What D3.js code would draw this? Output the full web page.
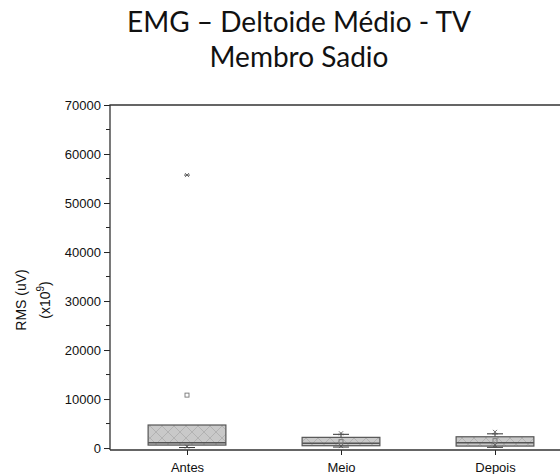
<!DOCTYPE html>
<html>
<head>
<meta charset="utf-8">
<script src="https://cdn.jsdelivr.net/npm/d3@7"></script>
<style>
  html, body { margin: 0; padding: 0; background: #fff; }
  svg { display: block; }
</style>
</head>
<body>
<svg id="chart" width="560" height="474"></svg>
<script>
// Box-plot summary per phase (RMS, x10^9 uV)
const categories = ["Antes", "Meio", "Depois"];
const q1 = [600, 470, 400];
const median = [1100, 1000, 1080];
const q3 = [4700, 2180, 2300];
const whiskerLow = [100, 200, 150];
const whiskerHigh = [4700, 2800, 2900];
const means = [10800, 1300, 1500];
const p1 = [300, 400, 600];
const p99 = [55700, 3000, 3300];
const maxima = [55700, 2800, 2900];
const yTicks = [0, 10000, 20000, 30000, 40000, 50000, 60000, 70000];

const svg = d3.select("#chart");
const plotLeft = 110, plotRight = 572, plotTop = 105, plotBottom = 450;
const axisFont = "Liberation Sans, Arial, sans-serif";

const x = d3.scalePoint().domain(categories).range([plotLeft, plotRight]).padding(0.5);
const y = d3.scaleLinear().domain([-400, 70000]).range([plotBottom, plotTop]);
const boxW = x.step() * 0.505;

// crosshatch fill
const defs = svg.append("defs");
const pat = defs.append("pattern")
  .attr("id", "hatch").attr("patternUnits", "userSpaceOnUse")
  .attr("width", 12).attr("height", 12);
pat.append("rect").attr("width", 12).attr("height", 12).attr("fill", "#c9c9c9");
pat.append("path").attr("d", "M0,0 L12,12 M12,0 L0,12")
  .attr("stroke", "#b2b2b2").attr("stroke-width", 1).attr("fill", "none");

// title
const title = svg.append("text").attr("x", 299).attr("text-anchor", "middle")
  .attr("font-family", "Lato, 'Open Sans', sans-serif").attr("font-size", 28).attr("fill", "#111");
title.append("tspan").attr("x", 299).attr("y", 32).text("EMG \u2013 Deltoide Médio - TV");
title.append("tspan").attr("x", 299).attr("y", 67).text("Membro Sadio");

// axes
const yAxis = svg.append("g").attr("transform", `translate(${plotLeft},0)`)
  .call(d3.axisLeft(y).tickValues(yTicks).tickSize(6).tickPadding(3).tickFormat(d3.format("d")));
yAxis.select(".domain").remove();
yAxis.selectAll("text").attr("font-family", axisFont)
  .attr("font-size", 13).attr("fill", "#111");
yAxis.selectAll("line").attr("stroke", "#222");

const minor = d3.range(5000, 70000, 10000);
svg.append("g").selectAll("line").data(minor).join("line")
  .attr("x1", plotLeft - 4).attr("x2", plotLeft)
  .attr("y1", d => y(d)).attr("y2", d => y(d))
  .attr("stroke", "#222");

const xAxis = svg.append("g").attr("transform", `translate(0,${plotBottom})`)
  .call(d3.axisBottom(x).tickSize(5).tickPadding(8));
xAxis.select(".domain").remove();
xAxis.selectAll("text").attr("font-family", axisFont)
  .attr("font-size", 13).attr("fill", "#111");
xAxis.selectAll("line").attr("stroke", "#222");

// frame
svg.append("path")
  .attr("d", `M${plotLeft},${plotBottom} L${plotLeft},${plotTop} L${plotRight},${plotTop} M${plotLeft},${plotBottom} L${plotRight},${plotBottom}`)
  .attr("fill", "none").attr("stroke", "#333").attr("stroke-width", 1.3);

// boxes
const g = svg.append("g");
categories.forEach((c, i) => {
  const cx = x(c);
  const capW = 16;
  // whiskers
  g.append("line").attr("x1", cx).attr("x2", cx)
    .attr("y1", y(q1[i])).attr("y2", y(whiskerLow[i])).attr("stroke", "#333");
  g.append("line").attr("x1", cx - capW / 2).attr("x2", cx + capW / 2)
    .attr("y1", y(whiskerLow[i])).attr("y2", y(whiskerLow[i])).attr("stroke", "#333");
  if (whiskerHigh[i] > q3[i]) {
    g.append("line").attr("x1", cx).attr("x2", cx)
      .attr("y1", y(q3[i])).attr("y2", y(whiskerHigh[i])).attr("stroke", "#333");
    g.append("line").attr("x1", cx - capW / 2).attr("x2", cx + capW / 2)
      .attr("y1", y(whiskerHigh[i])).attr("y2", y(whiskerHigh[i])).attr("stroke", "#333");
  }
  // box
  g.append("rect").attr("x", cx - boxW / 2).attr("width", boxW)
    .attr("y", y(q3[i])).attr("height", y(q1[i]) - y(q3[i]))
    .attr("fill", "url(#hatch)").attr("stroke", "#555").attr("stroke-width", 1.2);
  // median
  g.append("line").attr("x1", cx - boxW / 2).attr("x2", cx + boxW / 2)
    .attr("y1", y(median[i])).attr("y2", y(median[i]))
    .attr("stroke", "#555").attr("stroke-width", 1.5);
  // mean
  g.append("rect").attr("x", cx - 2).attr("y", y(means[i]) - 2)
    .attr("width", 4).attr("height", 4)
    .attr("fill", "none").attr("stroke", "#777").attr("stroke-width", 0.9);
  // 1% / 99% crosses
  [p1[i], p99[i]].forEach(v => {
    const py = y(v);
    g.append("path").attr("d", `M${cx - 2},${py - 2}L${cx + 2},${py + 2}M${cx + 2},${py - 2}L${cx - 2},${py + 2}`)
      .attr("stroke", "#555").attr("stroke-width", 0.9);
  });
  // max dash
  g.append("line").attr("x1", cx - 3).attr("x2", cx + 3)
    .attr("y1", y(maxima[i])).attr("y2", y(maxima[i])).attr("stroke", "#555");
});

// y label
const yl = svg.append("text").attr("transform", "translate(26,300) rotate(-90)")
  .attr("text-anchor", "middle").attr("font-family", axisFont)
  .attr("font-size", 14).attr("fill", "#111");
yl.append("tspan").attr("x", 0).attr("y", 0).text("RMS (uV)");
yl.append("tspan").attr("x", 0).attr("y", 24).text("(x10");
yl.append("tspan").attr("dy", -6).attr("font-size", 10).text("9");
yl.append("tspan").attr("dy", 6).text(")");
</script>
</body>
</html>
